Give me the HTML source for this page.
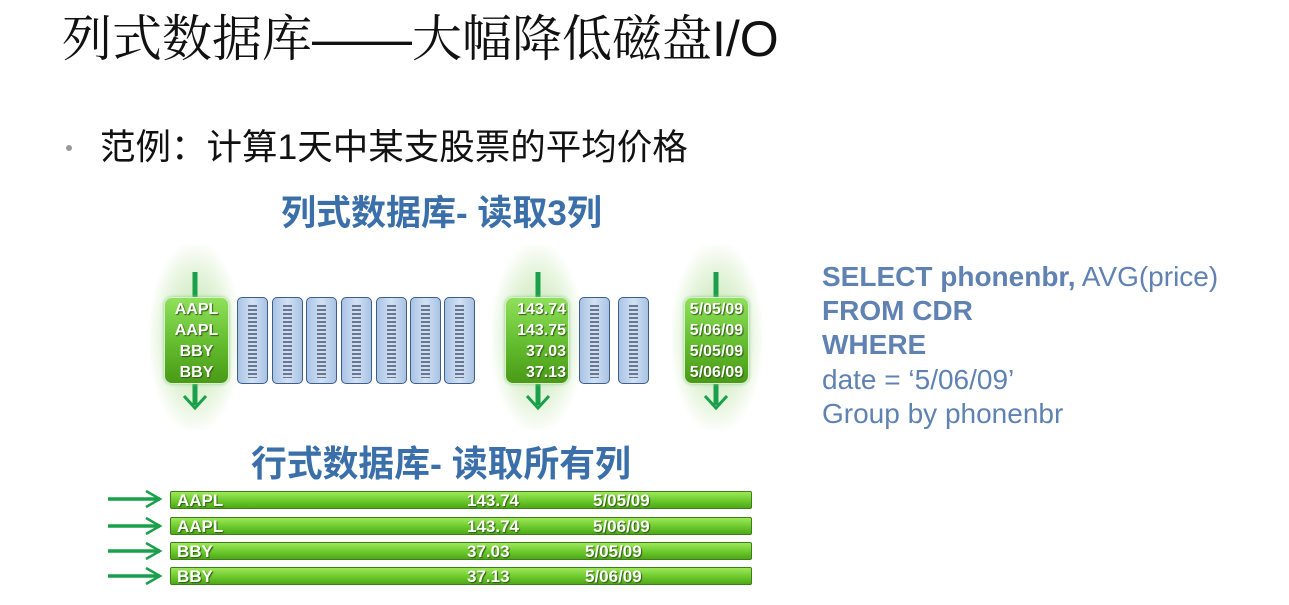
<!DOCTYPE html>
<html><head><meta charset="utf-8"><style>
body{margin:0;width:1289px;height:605px;background:#fff;position:relative;overflow:hidden;font-family:"Liberation Sans","Noto Sans CJK SC",sans-serif}
.a{position:absolute;white-space:nowrap}
.title{left:62px;top:8px;font-size:50px;font-family:"Liberation Sans","Noto Serif CJK SC",serif;color:#111;line-height:62px}
.bul{left:100px;top:124px;font-size:35.5px;color:#111;line-height:46px;font-family:"Liberation Sans","Noto Sans CJK SC",sans-serif}
.dot{left:66px;top:145px;width:6px;height:6px;border-radius:3px;background:#999}
.h{font-weight:bold;color:#3a6fa9;line-height:40px}
.sql{left:822px;font-size:28px;color:#5f82b3;line-height:34px}
.blue{position:absolute;top:297px;width:29px;height:85px;border:1.5px solid #3d5f8a;border-radius:5px;background:linear-gradient(90deg,#a9c3e4,#d2e1f3 50%,#a9c3e4)}
.blue::after{content:"";position:absolute;left:10px;right:10px;top:7px;bottom:5px;background:repeating-linear-gradient(180deg,#404a68 0 2px,transparent 2px 4px);opacity:.7}
.glow{position:absolute;top:245px;height:185px;background:radial-gradient(ellipse at center,rgba(130,200,90,.55),rgba(170,220,140,.25) 55%,rgba(255,255,255,0) 75%)}
.gbox{position:absolute;top:297px;height:84px;border:1.5px solid #d8f0c8;border-radius:8px;background:linear-gradient(180deg,#8fe05a,#5fb82a 60%,#4a9a18);color:#fff;font-weight:bold;font-size:16px;line-height:21px;text-shadow:1px 1px 1px #2d5a10;text-align:center;padding-top:1px;box-shadow:0 0 3px #8c8}
.row{position:absolute;left:170px;width:580px;height:16px;border:1px solid #3f7d18;border-radius:2px;background:linear-gradient(180deg,#9ee85a,#6cc92c 55%,#4ea818);color:#fff;font-weight:bold;font-size:17px;line-height:18px;text-shadow:1px 1px 1px #2d5a10}
.row span{position:absolute;top:0}
</style></head><body>
<div class="a title">列式数据库——大幅降低磁盘I/O</div>
<div class="a dot"></div>
<div class="a bul">范例：计算1天中某支股票的平均价格</div>
<div class="a h" style="left:281px;top:194px;font-size:35px">列式数据库- 读取3列</div>
<div class="a h" style="left:251px;top:444px;font-size:35.8px">行式数据库- 读取所有列</div>

<div class="glow" style="left:150px;width:90px"></div>
<div class="glow" style="left:492px;width:90px"></div>
<div class="glow" style="left:672px;width:90px"></div>

<svg class="a" style="left:0;top:0" width="1289" height="605">
<g stroke="#1aa04a" stroke-width="5" fill="none">
<line x1="195" y1="272" x2="195" y2="405"/><polyline points="184,396 195,408 206,396" stroke-width="3"/>
<line x1="538" y1="272" x2="538" y2="405"/><polyline points="527,396 538,408 549,396" stroke-width="3"/>
<line x1="716" y1="272" x2="716" y2="405"/><polyline points="705,396 716,408 727,396" stroke-width="3"/>
</g>
<g stroke="#1aa04a" stroke-width="3.5" fill="none">
<line x1="108" y1="499" x2="160" y2="499"/><polyline points="146,491 160,499 146,507" stroke-width="2.5"/>
<line x1="108" y1="526" x2="160" y2="526"/><polyline points="146,518 160,526 146,534" stroke-width="2.5"/>
<line x1="108" y1="551" x2="160" y2="551"/><polyline points="146,543 160,551 146,559" stroke-width="2.5"/>
<line x1="108" y1="576" x2="160" y2="576"/><polyline points="146,568 160,576 146,584" stroke-width="2.5"/>
</g>
</svg>

<div class="gbox" style="left:164px;width:63px">AAPL<br>AAPL<br>BBY<br>BBY</div>
<div class="gbox" style="left:505px;text-align:right;padding-right:2px;width:60px">143.74<br>143.75<br>37.03<br>37.13</div>
<div class="gbox" style="left:684px;width:63px">5/05/09<br>5/06/09<br>5/05/09<br>5/06/09</div>

<div class="blue" style="left:237px"></div>
<div class="blue" style="left:272px"></div>
<div class="blue" style="left:306px"></div>
<div class="blue" style="left:341px"></div>
<div class="blue" style="left:376px"></div>
<div class="blue" style="left:410px"></div>
<div class="blue" style="left:444px"></div>
<div class="blue" style="left:579px"></div>
<div class="blue" style="left:618px"></div>

<div class="row" style="top:491px"><span style="left:6px">AAPL</span><span style="left:296px">143.74</span><span style="left:422px">5/05/09</span></div>
<div class="row" style="top:517px"><span style="left:6px">AAPL</span><span style="left:296px">143.74</span><span style="left:422px">5/06/09</span></div>
<div class="row" style="top:542px"><span style="left:6px">BBY</span><span style="left:296px">37.03</span><span style="left:414px">5/05/09</span></div>
<div class="row" style="top:567px"><span style="left:6px">BBY</span><span style="left:296px">37.13</span><span style="left:414px">5/06/09</span></div>

<div class="a sql" style="top:260px"><b>SELECT phonenbr,</b> AVG(price)</div>
<div class="a sql" style="top:294px"><b>FROM CDR</b></div>
<div class="a sql" style="top:328px"><b>WHERE</b></div>
<div class="a sql" style="top:363px">date = ‘5/06/09’</div>
<div class="a sql" style="top:397px">Group by phonenbr</div>
</body></html>
